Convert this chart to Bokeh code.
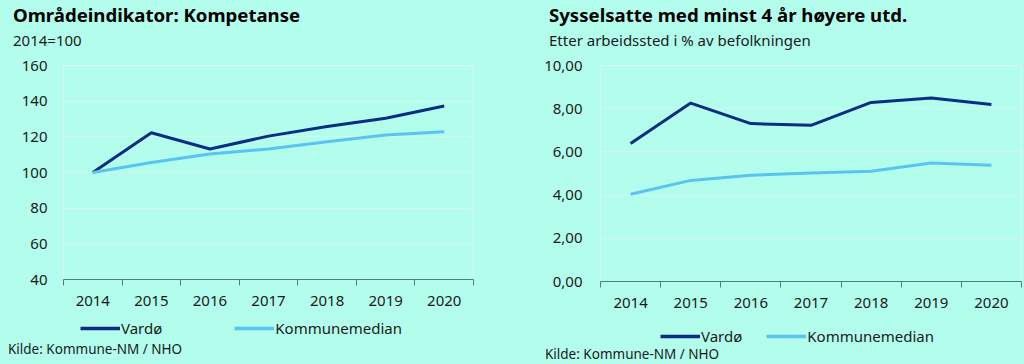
from bokeh.plotting import figure
from bokeh.models import Range1d, FixedTicker, Legend, LegendItem, Div
from bokeh.layouts import row, column
from bokeh.embed import file_html
from bokeh.resources import INLINE

years = ["2014", "2015", "2016", "2017", "2018", "2019", "2020"]

# Left chart: Områdeindikator: Kompetanse (2014=100)
left_vardo = [100, 122.3, 113.2, 120.4, 125.8, 130.4, 137.3]
left_median = [100, 105.6, 110.4, 113.2, 117.3, 121.0, 122.8]
left_yticks = [40, 60, 80, 100, 120, 140, 160]

# Right chart: Sysselsatte med minst 4 år høyere utd.
right_vardo = [6.39, 8.26, 7.31, 7.23, 8.29, 8.49, 8.19]
right_median = [4.04, 4.68, 4.92, 5.02, 5.10, 5.49, 5.38]
right_yticks = [0, 2, 4, 6, 8, 10]

series_names = ["Vardø", "Kommunemedian"]

BG = "#B3FDED"
DARK = "#0B2D82"
LIGHT = "#5AC3F0"
FONT = "Noto Sans"
TXT = "#1a1a1a"


def header(title, subtitle, x):
    html = (
        f'<div style="position:relative;width:512px;height:50px;">'
        f'<div style="position:absolute;left:{x}px;top:6px;font-family:\'{FONT}\';'
        f'font-weight:bold;font-size:18.6px;line-height:18.6px;color:#000;white-space:nowrap;">{title}</div>'
        f'<div style="position:absolute;left:{x}px;top:33px;font-family:\'{FONT}\';'
        f'font-size:15px;line-height:15px;color:{TXT};white-space:nowrap;">{subtitle}</div>'
        f'</div>')
    return Div(text=html, width=512, height=50, margin=0,
               styles={"background-color": BG})


def source(x, top, h):
    html = (f'<div style="position:relative;width:512px;height:{h}px;">'
            f'<div style="position:absolute;left:{x}px;top:{top}px;font-family:\'{FONT}\';'
            f'font-size:13.5px;line-height:13.5px;color:{TXT};white-space:nowrap;">'
            f'Kilde: Kommune-NM / NHO</div></div>')
    return Div(text=html, width=512, height=h, margin=0,
               styles={"background-color": BG})


def make_chart(vardo, median, yticks, ylabels, mbl, mbr, height, ystandoff):
    xs = list(range(len(years)))
    p = figure(width=512, height=height, output_backend="svg", toolbar_location=None,
               x_range=Range1d(-0.5, len(years) - 0.5),
               y_range=Range1d(yticks[0], yticks[-1]),
               min_border_left=mbl, min_border_right=mbr, min_border_top=15,
               min_border_bottom=35, margin=0)
    p.background_fill_color = BG
    p.border_fill_color = BG
    p.outline_line_color = "#D6F7F0"
    p.outline_line_width = 1

    p.xaxis.ticker = FixedTicker(ticks=xs,
                                 minor_ticks=[i - 0.5 for i in range(len(years) + 1)])
    p.xaxis.major_label_overrides = {i: y for i, y in enumerate(years)}
    p.xaxis.major_tick_line_color = None
    p.xaxis.minor_tick_line_color = "#4F7F7A"
    p.xaxis.minor_tick_in = 0
    p.xaxis.minor_tick_out = 6
    p.xaxis.axis_line_color = "#4F7F7A"
    p.xaxis.major_label_text_font = FONT
    p.xaxis.major_label_text_font_size = "15px"
    p.xaxis.major_label_text_color = TXT
    p.xaxis.major_label_standoff = 10

    p.yaxis.ticker = FixedTicker(ticks=yticks, minor_ticks=[])
    p.yaxis.major_label_overrides = {t: l for t, l in zip(yticks, ylabels)}
    p.yaxis.axis_line_color = None
    p.yaxis.major_tick_line_color = None
    p.yaxis.minor_tick_line_color = None
    p.yaxis.major_label_text_font = FONT
    p.yaxis.major_label_text_font_size = "15px"
    p.yaxis.major_label_text_color = TXT
    p.yaxis.major_label_standoff = ystandoff

    p.xgrid.grid_line_color = None
    p.ygrid.grid_line_color = "#D3F7EF"

    p.line(xs, vardo, line_color=DARK, line_width=3)
    p.line(xs, median, line_color=LIGHT, line_width=3)
    return p


def legend_fig(vardo, median, height, loc, spacing):
    # a strip that only shows the legend; its lines lie outside its visible range
    xs = list(range(len(years)))
    p = figure(width=512, height=height, output_backend="svg", toolbar_location=None,
               x_range=Range1d(0, 1), y_range=Range1d(1000, 1001),
               min_border=0, margin=0)
    p.axis.visible = False
    p.grid.visible = False
    p.outline_line_color = None
    p.background_fill_color = BG
    p.border_fill_color = BG
    r1 = p.line(xs, vardo, line_color=DARK, line_width=3.5)
    r2 = p.line(xs, median, line_color=LIGHT, line_width=3.5)
    legend = Legend(items=[LegendItem(label=series_names[0], renderers=[r1]),
                           LegendItem(label=series_names[1], renderers=[r2])],
                    orientation="horizontal", location=loc,
                    background_fill_alpha=0, border_line_color=None,
                    label_text_font=FONT, label_text_font_size="15px",
                    label_text_color=TXT, glyph_width=40, label_standoff=1,
                    spacing=spacing, padding=0, margin=0)
    p.add_layout(legend, "center")
    return p


p1 = make_chart(left_vardo, left_median, left_yticks, [str(t) for t in left_yticks],
                63, 39, 264, 10)
l1 = legend_fig(left_vardo, left_median, 28, (17, 4), 72)
p2 = make_chart(right_vardo, right_median, right_yticks,
                ["%d,00" % t for t in right_yticks], 88, 3, 266, 12)
l2 = legend_fig(right_vardo, right_median, 30, (60, 0), 24)

c1 = column(header("Områdeindikator: Kompetanse", "2014=100", 13), p1, l1,
            source(8, 1, 22), spacing=0)
c2 = column(header("Sysselsatte med minst 4 år høyere utd.",
                   "Etter arbeidssted i % av befolkningen", 37), p2, l2,
            source(33, 1.5, 18), spacing=0)
layout = row(c1, c2, spacing=0)
layout.styles = {"background-color": BG}
open("out.html", "w").write(file_html(layout, INLINE))
